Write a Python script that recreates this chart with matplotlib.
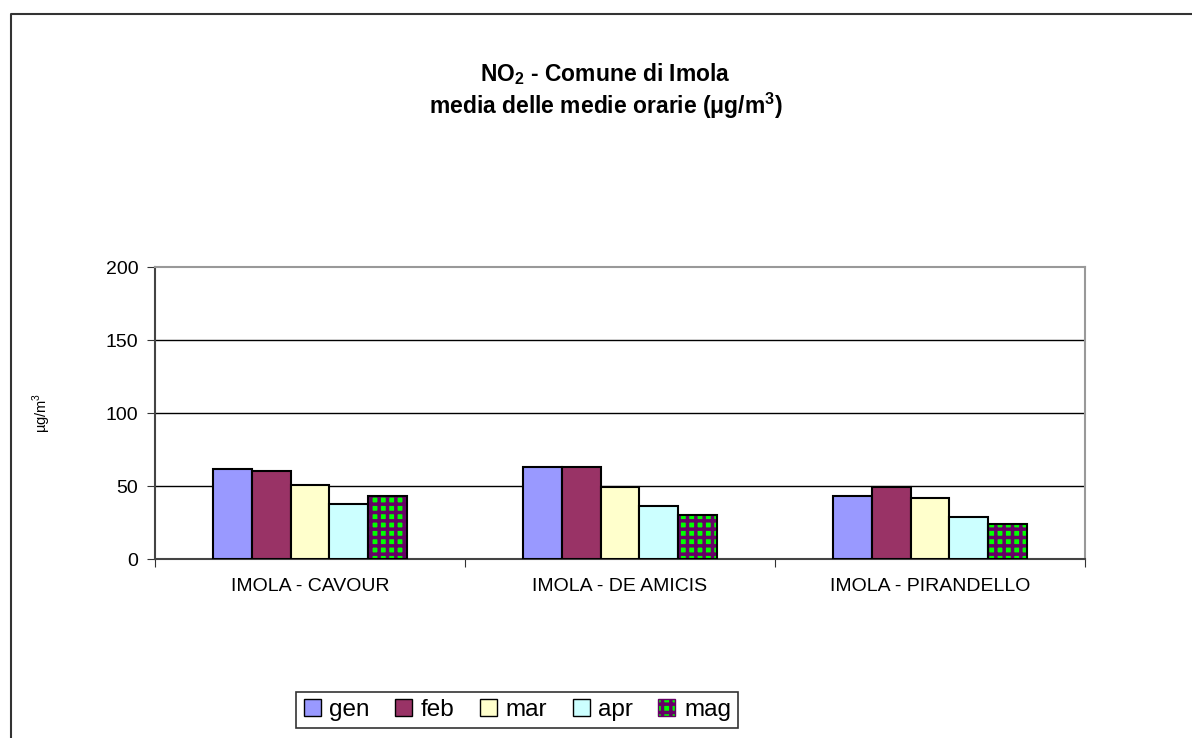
import matplotlib
matplotlib.use('Agg')
from matplotlib import pyplot as plt
from matplotlib.lines import Line2D
from matplotlib.patches import Patch
import numpy as np

plt.rcParams['font.family'] = ['Liberation Sans', 'DejaVu Sans']
plt.rcParams['mathtext.fontset'] = 'custom'
plt.rcParams['mathtext.rm'] = 'Liberation Sans'
plt.rcParams['mathtext.bf'] = 'Liberation Sans:bold'
plt.rcParams['hatch.linewidth'] = 2.5

# dati
stazioni = ['IMOLA - CAVOUR', 'IMOLA - DE AMICIS', 'IMOLA - PIRANDELLO']
mesi = ['gen', 'feb', 'mar', 'apr', 'mag']
gen = [62, 63, 43]
feb = [60.5, 63, 49.5]
mar = [51, 49, 42]
apr = [38, 36.5, 28.5]
mag = [43, 30, 24]
serie = [gen, feb, mar, apr, mag]
colori = ['#9999ff', '#993366', '#ffffcc', '#ccffff', '#00ff00']
y_ticks = [0, 50, 100, 150, 200]

fig = plt.figure(figsize=(11.92, 7.38), dpi=100)
ax = fig.add_axes([0.130, 0.2425, 0.7802, 0.3957])

x = np.arange(len(stazioni))
w = 0.627 / len(mesi)
for i, (vals, col) in enumerate(zip(serie, colori)):
    pos = x + (i - 2) * w
    if mesi[i] == 'mag':
        # motivo a quadretti verde/viola
        ax.bar(pos, vals, w, color=col, edgecolor='#660066', hatch='++',
               linewidth=0, zorder=3)
        ax.bar(pos, vals, w, fill=False, edgecolor='black', linewidth=1.5, zorder=4)
    else:
        ax.bar(pos, vals, w, color=col, edgecolor='black', linewidth=1.5, zorder=3)

ax.set_xlim(-0.5, 2.5)
ax.set_ylim(0, 200)
ax.set_yticks(y_ticks)
ax.set_yticklabels([str(v) for v in y_ticks], fontsize=14)
ax.set_xticks([-0.5, 0.5, 1.5, 2.5])
ax.set_xticklabels([])
ax.set_xticks(x, minor=True)
ax.set_xticklabels(stazioni, minor=True, fontsize=14)
ax.tick_params(axis='x', which='minor', length=0, pad=14)
ax.tick_params(axis='x', which='major', length=6, direction='out', color='#333333')
ax.tick_params(axis='y', length=6, direction='out', color='#333333', pad=6)

for v in y_ticks[1:-1]:
    ax.axhline(v, color='black', linewidth=1, zorder=1)
for s in ['left', 'bottom']:
    ax.spines[s].set_color('#444444')
    ax.spines[s].set_linewidth(1.5)
for s in ['right', 'top']:
    ax.spines[s].set_color('#999999')
    ax.spines[s].set_linewidth(1.5)

ax.set_ylabel('µg/m$^3$', fontsize=10.5, labelpad=38)

fig.text(0.508, 0.900, r'NO$_\mathbf{2}$ - Comune di Imola', ha='center', va='center',
         fontsize=16.5, fontweight='bold')
fig.text(0.508, 0.857, r'media delle medie orarie ($\mathbf{\mu}$g/m$^\mathbf{3}$)', ha='center',
         va='center', fontsize=16.5, fontweight='bold')

handles = []
for m, col in zip(mesi, colori):
    if m == 'mag':
        handles.append(Patch(facecolor=col, edgecolor='#660066', hatch='++', linewidth=1))
    else:
        handles.append(Patch(facecolor=col, edgecolor='black', linewidth=1))
leg = fig.legend(handles, mesi, loc='center', bbox_to_anchor=(0.434, 0.038), ncol=5,
                 fontsize=17.5, frameon=True, fancybox=False, handlelength=0.7,
                 handleheight=0.7, handletextpad=0.35, columnspacing=1.05,
                 borderpad=0.3)
leg.get_frame().set_edgecolor('black')
leg.get_frame().set_linewidth(1.2)

# bordo dell'area del grafico
fig.add_artist(Line2D([11 / 1192, 11 / 1192, 1], [0, 1 - 14 / 738, 1 - 14 / 738],
                      transform=fig.transFigure, color='#333333', linewidth=1.5))

plt.savefig('out.png', dpi=100)
